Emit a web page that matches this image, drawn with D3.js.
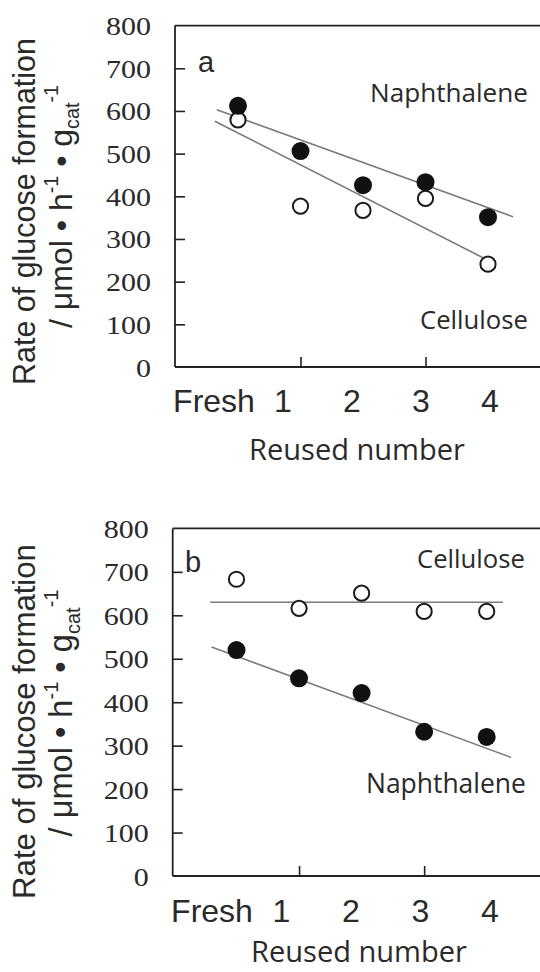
<!DOCTYPE html>
<html><head><meta charset="utf-8">
<script src="https://cdn.jsdelivr.net/npm/d3@7"></script>
<style>html,body{margin:0;padding:0;background:#fff;}svg{display:block;}
</style>
</head><body>
<script>
// ---- data ----
const reuseLabels = ["Fresh", "1", "2", "3", "4"];
const reuseIndex = [0, 1, 2, 3, 4];
const yTicks = [0, 100, 200, 300, 400, 500, 600, 700, 800];
const xTickMarks = [1, 3];

const aNaphthalene = [612, 506, 426, 433, 351];
const aCellulose   = [579, 377, 367, 395, 241];
const bCellulose   = [683, 616, 651, 609, 609];
const bNaphthalene = [520, 455, 421, 332, 320];

// trend lines: [reuse index, rate]
const aNaphTrend = [[-0.34, 603], [4.40, 352]];
const aCellTrend = [[-0.37, 576], [3.92, 256]];
const bCellTrend = [[-0.42, 630], [4.26, 630]];
const bNaphTrend = [[-0.40, 527], [4.39, 273]];

const yTitle1 = "Rate of glucose formation";
const xTitle = "Reused number";

// ---- layout ----
const W = 540, H = 972;
const svg = d3.select("body").append("svg").attr("width", W).attr("height", H);

function fit(sel, target) {
  const n = sel.node();
  const len = n.getComputedTextLength();
  const fs = parseFloat(sel.attr("font-size"));
  if (len > 0) {
    const k = target / len;
    sel.attr("font-size", fs * k);
    sel.selectAll("tspan").each(function () {
      const t = d3.select(this);
      if (t.attr("font-size")) t.attr("font-size", parseFloat(t.attr("font-size")) * k);
      if (t.attr("dy")) t.attr("dy", parseFloat(t.attr("dy")) * k);
    });
  }
}

const panels = [
  { letter: "a", left: 175, top: 25.6, bottom: 367, x0: 238, x4: 488, lab0: 214, lab4: 490, labBase: 412, titleBase: 460, titleX: 357,
    filled: aNaphthalene, open: aCellulose, filledTrend: aNaphTrend, openTrend: aCellTrend,
    letterPos: [198, 71.7],
    texts: [{t: "Naphthalene", x: 370, y: 101.7, w: 158}, {t: "Cellulose", x: 420, y: 329, w: 108}],
    yt1: [35, 211.5, 347], yt2: [72, 206.5, 243] },
  { letter: "b", left: 172.7, top: 528.4, bottom: 876, x0: 236.5, x4: 486.7, lab0: 212, lab4: 490, labBase: 921.7, titleBase: 962, titleX: 359,
    filled: bNaphthalene, open: bCellulose, filledTrend: bNaphTrend, openTrend: bCellTrend,
    letterPos: [185, 571.7],
    texts: [{t: "Cellulose", x: 417, y: 568, w: 108}, {t: "Naphthalene", x: 366, y: 793, w: 160}],
    yt1: [35, 721.5, 355], yt2: [72, 713, 247] }
];

const axisColor = "#222";
const textColor = "#2a2a2a";

panels.forEach(p => {
  const g = svg.append("g");
  const x = d3.scaleLinear().domain([0, 4]).range([p.x0, p.x4]);
  const y = d3.scaleLinear().domain([0, 800]).range([p.bottom, p.top]);
  const xl = d3.scalePoint().domain(reuseLabels).range([p.lab0, p.lab4]);

  // y axis ticks + labels
  const ya = g.append("g").attr("transform", `translate(${p.left},0)`)
    .call(d3.axisLeft(y).tickValues(yTicks).tickSize(-10).tickPadding(24).tickFormat(d3.format("d")));
  ya.attr("font-family", "Liberation Serif").attr("font-size", 25);
  ya.select(".domain").remove();
  ya.selectAll(".tick").filter(d => d === 0 || d === 800).select("line").remove();
  ya.selectAll(".tick line").attr("stroke", axisColor).attr("stroke-width", 1.6);
  ya.selectAll(".tick text").attr("fill", textColor).attr("dy", "0.36em")
    .attr("font-family", "Liberation Serif").attr("font-size", 25)
    .attr("transform", "scale(1.2,1)").attr("x", -24 / 1.2);

  // x tick marks
  const xa = g.append("g").attr("transform", `translate(0,${p.bottom})`)
    .call(d3.axisBottom(x).tickValues(xTickMarks).tickSize(-10).tickFormat(""));
  xa.select(".domain").remove();
  xa.selectAll(".tick line").attr("stroke", axisColor).attr("stroke-width", 1.6);

  // frame
  g.append("line").attr("x1", p.left).attr("x2", p.left).attr("y1", p.top).attr("y2", p.bottom)
    .attr("stroke", axisColor).attr("stroke-width", 1.8);
  g.append("line").attr("x1", p.left).attr("x2", W).attr("y1", p.top).attr("y2", p.top)
    .attr("stroke", axisColor).attr("stroke-width", 1.8);
  g.append("line").attr("x1", p.left).attr("x2", W).attr("y1", p.bottom).attr("y2", p.bottom)
    .attr("stroke", axisColor).attr("stroke-width", 1.8);

  // x labels
  g.append("g").selectAll("text").data(reuseLabels).join("text")
    .attr("x", d => xl(d)).attr("y", p.labBase).attr("text-anchor", "middle")
    .attr("font-family", "Liberation Sans, Arial").attr("font-size", 32).attr("fill", textColor)
    .text(d => d);

  const xt = g.append("text").attr("x", p.titleX).attr("y", p.titleBase)
    .attr("text-anchor", "middle").attr("font-family", "Open Sans").attr("font-size", 26)
    .attr("fill", textColor).text(xTitle);
  fit(xt, 216);

  // y title
  const t1 = g.append("text").attr("transform", `translate(${p.yt1[0]},${p.yt1[1]}) rotate(-90)`)
    .attr("text-anchor", "middle").attr("font-family", "Liberation Sans, Arial").attr("font-size", 28)
    .attr("fill", textColor).text(yTitle1);
  fit(t1, p.yt1[2]);
  const t2 = g.append("text").attr("transform", `translate(${p.yt2[0]},${p.yt2[1]}) rotate(-90)`)
    .attr("text-anchor", "middle").attr("font-family", "Liberation Sans, Arial").attr("font-size", 26)
    .attr("fill", textColor);
  t2.append("tspan").text("/ μmol • h");
  t2.append("tspan").attr("dy", -11).attr("font-size", 16).text("-1");
  t2.append("tspan").attr("dy", 11).text(" • g");
  t2.append("tspan").attr("dy", 6).attr("font-size", 16).text("cat");
  t2.append("tspan").attr("dy", -17).attr("font-size", 16).text("-1");
  fit(t2, p.yt2[2]);

  // panel letter
  g.append("text").attr("x", p.letterPos[0]).attr("y", p.letterPos[1])
    .attr("font-family", "Liberation Sans, Arial").attr("font-size", 29).attr("fill", textColor).text(p.letter);

  // series labels
  p.texts.forEach(t => {
    const s = g.append("text").attr("x", t.x).attr("y", t.y).attr("font-family", "Open Sans").attr("font-size", 23)
      .attr("fill", textColor).text(t.t);
    fit(s, t.w);
  });

  // trend lines
  const line = d3.line().x(d => x(d[0])).y(d => y(d[1]));
  [p.filledTrend, p.openTrend].forEach(tr => {
    g.append("path").attr("d", line(tr)).attr("fill", "none").attr("stroke", "#7a7a7a").attr("stroke-width", 1.6);
  });

  // points
  g.append("g").selectAll("circle").data(reuseIndex).join("circle")
    .attr("cx", i => x(i)).attr("cy", i => y(p.open[i])).attr("r", 7.6)
    .attr("fill", "#fff").attr("stroke", "#1a1a1a").attr("stroke-width", 2);
  g.append("g").selectAll("circle").data(reuseIndex).join("circle")
    .attr("cx", i => x(i)).attr("cy", i => y(p.filled[i])).attr("r", 9)
    .attr("fill", "#111");
});
</script>
</body></html>
